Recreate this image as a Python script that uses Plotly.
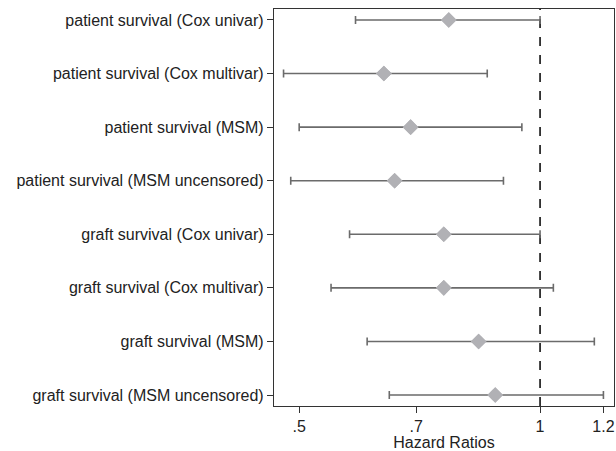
import plotly.graph_objects as go

labels = [
    "patient survival (Cox univar)",
    "patient survival (Cox multivar)",
    "patient survival (MSM)",
    "patient survival (MSM uncensored)",
    "graft survival (Cox univar)",
    "graft survival (Cox multivar)",
    "graft survival (MSM)",
    "graft survival (MSM uncensored)",
]
hr = [0.769, 0.638, 0.689, 0.658, 0.758, 0.758, 0.838, 0.879]
lower = [0.588, 0.478, 0.500, 0.488, 0.578, 0.548, 0.608, 0.648]
upper = [1.000, 0.859, 0.949, 0.900, 1.000, 1.039, 1.169, 1.200]

xtick_vals = [0.5, 0.7, 1.0, 1.2]
xtick_text = [".5", ".7", "1", "1.2"]

ypos = list(range(len(labels)))

fig = go.Figure()
fig.add_trace(go.Scatter(
    x=hr, y=ypos, mode="markers",
    marker=dict(symbol="diamond", size=12, color="#b1b1b5", line=dict(width=0)),
    error_x=dict(type="data", symmetric=False,
                 array=[u - h for u, h in zip(upper, hr)],
                 arrayminus=[h - l for h, l in zip(hr, lower)],
                 color="#6b6b6b", thickness=1.6, width=4),
    showlegend=False,
))
fig.add_trace(go.Scatter(
    x=hr, y=ypos, mode="markers",
    marker=dict(symbol="diamond", size=12, color="#b1b1b5", line=dict(width=0)),
    showlegend=False,
))

fig.add_shape(type="line", x0=1, x1=1, xref="x", y0=0, y1=1, yref="paper",
              line=dict(color="#111111", width=1.6, dash="dash"), layer="below")

font = dict(family="Liberation Sans, Arial, sans-serif", size=16, color="#222222")
fig.update_layout(
    width=616, height=451,
    margin=dict(l=274, r=2, t=9, b=45),
    paper_bgcolor="white", plot_bgcolor="white",
    font=font,
    xaxis=dict(type="log", range=[-0.3325, 0.0924], automargin=False,
               tickvals=xtick_vals, ticktext=xtick_text,
               ticks="outside", ticklen=6, tickwidth=1, tickcolor="#333333",
               showgrid=False, zeroline=False,
               showline=True, linecolor="#333333", linewidth=1.3, mirror=True,
               title=dict(text="Hazard Ratios", standoff=0, font=font),
               tickfont=font),
    yaxis=dict(range=[7.205, -0.205], tickvals=ypos, ticktext=labels, automargin=False,
               ticks="outside", ticklen=6, tickwidth=1, tickcolor="#333333",
               showgrid=False, zeroline=False,
               showline=True, linecolor="#333333", linewidth=1.3, mirror=True,
               tickfont=font),
)

fig.write_html("out.html", config={"displayModeBar": False},
               post_script="document.body.style.margin='0';")
